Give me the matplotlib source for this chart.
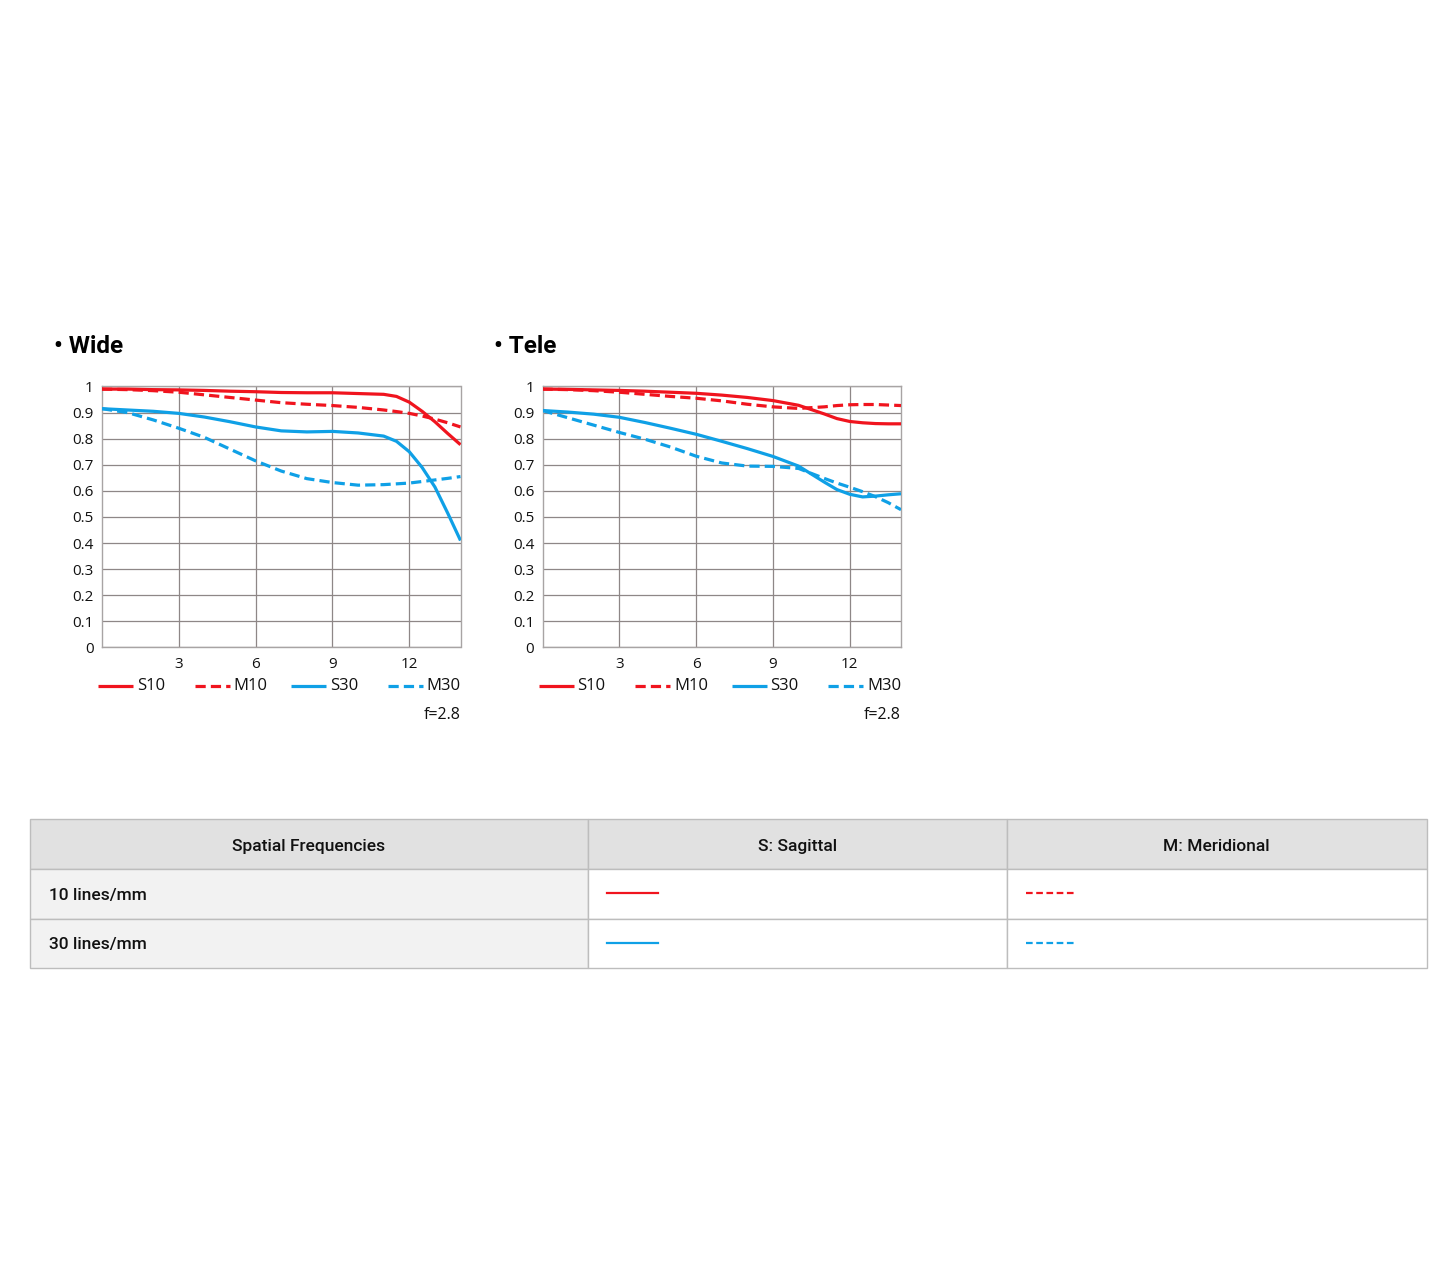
import matplotlib.pyplot as plt
from matplotlib.patches import Rectangle
from matplotlib.lines import Line2D

plt.rcParams['font.family'] = ['Open Sans', 'DejaVu Sans']

####################################################################################
# data
freq_x = [0, 1, 2, 3, 4, 5, 6, 7, 8, 9, 10, 11, 11.5, 12, 12.5, 13, 13.5, 14]
wide_s10 = [0.99, 0.99, 0.988, 0.987, 0.985, 0.982, 0.98, 0.977, 0.976, 0.976, 0.973, 0.97, 0.962, 0.94, 0.905, 0.865, 0.82, 0.777]
wide_m10 = [0.99, 0.988, 0.984, 0.978, 0.968, 0.958, 0.948, 0.938, 0.932, 0.927, 0.92, 0.91, 0.904, 0.897, 0.887, 0.875, 0.861, 0.845]
wide_s30 = [0.915, 0.91, 0.905, 0.897, 0.883, 0.865, 0.845, 0.83, 0.826, 0.828, 0.822, 0.81, 0.79, 0.75, 0.69, 0.615, 0.515, 0.41]
wide_m30 = [0.915, 0.9, 0.872, 0.84, 0.805, 0.76, 0.715, 0.676, 0.647, 0.632, 0.622, 0.624, 0.627, 0.63, 0.636, 0.642, 0.648, 0.655]

tele_s10 = [0.99, 0.989, 0.987, 0.985, 0.982, 0.978, 0.974, 0.967, 0.958, 0.946, 0.928, 0.895, 0.877, 0.866, 0.861, 0.858, 0.857, 0.857]
tele_m10 = [0.99, 0.988, 0.984, 0.978, 0.97, 0.962, 0.955, 0.945, 0.932, 0.922, 0.916, 0.922, 0.927, 0.93, 0.931, 0.931, 0.929, 0.927]
tele_s30 = [0.908, 0.902, 0.894, 0.882, 0.862, 0.84, 0.817, 0.79, 0.762, 0.732, 0.695, 0.634, 0.605, 0.587, 0.577, 0.58, 0.585, 0.589]
tele_m30 = [0.908, 0.88, 0.852, 0.824, 0.798, 0.768, 0.733, 0.707, 0.695, 0.694, 0.686, 0.648, 0.63, 0.614, 0.597, 0.578, 0.555, 0.528]

series_names = ['S10', 'M10', 'S30', 'M30']
panels = [
    ('Wide', [wide_s10, wide_m10, wide_s30, wide_m30]),
    ('Tele', [tele_s10, tele_m10, tele_s30, tele_m30]),
]
x_ticks = [3, 6, 9, 12]
y_ticks = [0, 0.1, 0.2, 0.3, 0.4, 0.5, 0.6, 0.7, 0.8, 0.9, 1]
y_ticklabels = ['0', '0.1', '0.2', '0.3', '0.4', '0.5', '0.6', '0.7', '0.8', '0.9', '1']
aperture = 'f=2.8'

table_header = ['Spatial Frequencies', 'S: Sagittal', 'M: Meridional']
table_rows = ['10 lines/mm', '30 lines/mm']

####################################################################################
# style
red = '#F0141E'
blue = '#0FA0E6'
grid_color = '#8E8787'
frame_color = '#A8A4A4'
series_colors = [red, red, blue, blue]
series_dashed = [False, True, False, True]
DASH = (3.2, 1.6)

W, H = 1455, 1273
fig = plt.figure(figsize=(W / 100, H / 100), dpi=100)


def px_box(x0, y0, x1, y1):
    return [x0 / W, 1 - y1 / H, (x1 - x0) / W, (y1 - y0) / H]


def plot_panel(ax, title, curves):
    ax_w, ax_h = 358.5, 261.0   # axes size in px, used for legend placement
    for ys, c, dashed, name in zip(curves, series_colors, series_dashed, series_names):
        kw = dict(dashes=DASH) if dashed else {}
        ax.plot(freq_x, ys, color=c, lw=2.3, label=name, solid_capstyle='butt',
                dash_capstyle='butt', zorder=3, **kw)
    ax.set_xlim(0, 14)
    ax.set_ylim(0, 1)
    ax.set_xticks(x_ticks)
    ax.set_yticks(y_ticks)
    ax.set_yticklabels(y_ticklabels)
    ax.grid(True, color=grid_color, lw=0.9)
    ax.tick_params(length=0, labelsize=11, colors='#111111', pad=6)
    ax.tick_params(axis='x', pad=7)
    for sp in ax.spines.values():
        sp.set_color(frame_color)
        sp.set_linewidth(1.0)

    # legend row under the plot (handle 35px, entries every ~97px)
    ly = -39 / ax_h
    for i, (name, c, dashed) in enumerate(zip(series_names, series_colors, series_dashed)):
        x0 = (-4 + 96.5 * i) / ax_w
        x1 = x0 + 35 / ax_w
        kw = dict(dashes=DASH) if dashed else {}
        ax.add_line(Line2D([x0, x1], [ly, ly], transform=ax.transAxes, color=c, lw=2.3,
                           clip_on=False, solid_capstyle='butt', dash_capstyle='butt', **kw))
        ax.text(x1 + 4 / ax_w, ly, name, transform=ax.transAxes, ha='left', va='center',
                fontsize=12, color='#111111')

    ax.text(1.0, -68 / ax_h, aperture, transform=ax.transAxes, ha='right', va='center',
            fontsize=11.5, color='#111111')
    ax.text(-0.135, 1.155, '\u2022 ' + title, transform=ax.transAxes, ha='left', va='center',
            fontsize=17.5, fontweight='bold', family=['Roboto', 'DejaVu Sans'], color='#000000')


ax_wide = fig.add_axes(px_box(102, 386.5, 460.5, 647.5))
ax_tele = fig.add_axes(px_box(542.5, 386.5, 901, 647.5))
for ax, (title, curves) in zip([ax_wide, ax_tele], panels):
    plot_panel(ax, title, curves)

####################################################################################
# table
tx0, ty0, tx1, ty1 = 30, 819, 1427, 968
tab = fig.add_axes(px_box(tx0, ty0, tx1, ty1))
tab.set_xlim(0, tx1 - tx0)
tab.set_ylim(ty1 - ty0, 0)
tab.axis('off')

col_edges = [0, 558, 977, 1396.5]
row_edges = [0, 50, 99.5, 148.5]
border = '#BDBDBD'
tfont = ['Roboto', 'DejaVu Sans']

for r in range(3):
    for c in range(3):
        if r == 0:
            fc = '#E1E1E1'
        elif c == 0:
            fc = '#F2F2F2'
        else:
            fc = '#FFFFFF'
        tab.add_patch(Rectangle((col_edges[c], row_edges[r]), col_edges[c + 1] - col_edges[c],
                                row_edges[r + 1] - row_edges[r], facecolor=fc, edgecolor=border,
                                lw=1.0, clip_on=False))

for c, label in enumerate(table_header):
    tab.text((col_edges[c] + col_edges[c + 1]) / 2, row_edges[0] + 27.5, label, ha='center',
             va='center', fontsize=12.5, fontweight='medium', family=tfont, color='#111111')

row_colors = [red, blue]
for r, label in enumerate(table_rows):
    yc = (row_edges[r + 1] + row_edges[r + 2]) / 2
    tab.text(19, yc + 2, label, ha='left', va='center', fontsize=12.5, fontweight='medium',
             family=tfont, color='#111111')
    tab.add_line(Line2D([col_edges[1] + 19, col_edges[1] + 70], [yc - 0.5, yc - 0.5],
                        color=row_colors[r], lw=1.6))
    tab.add_line(Line2D([col_edges[2] + 19, col_edges[2] + 70], [yc - 0.5, yc - 0.5],
                        color=row_colors[r], lw=1.6, dashes=(3.0, 1.6)))

fig.savefig('out.png', dpi=100, facecolor='white')
